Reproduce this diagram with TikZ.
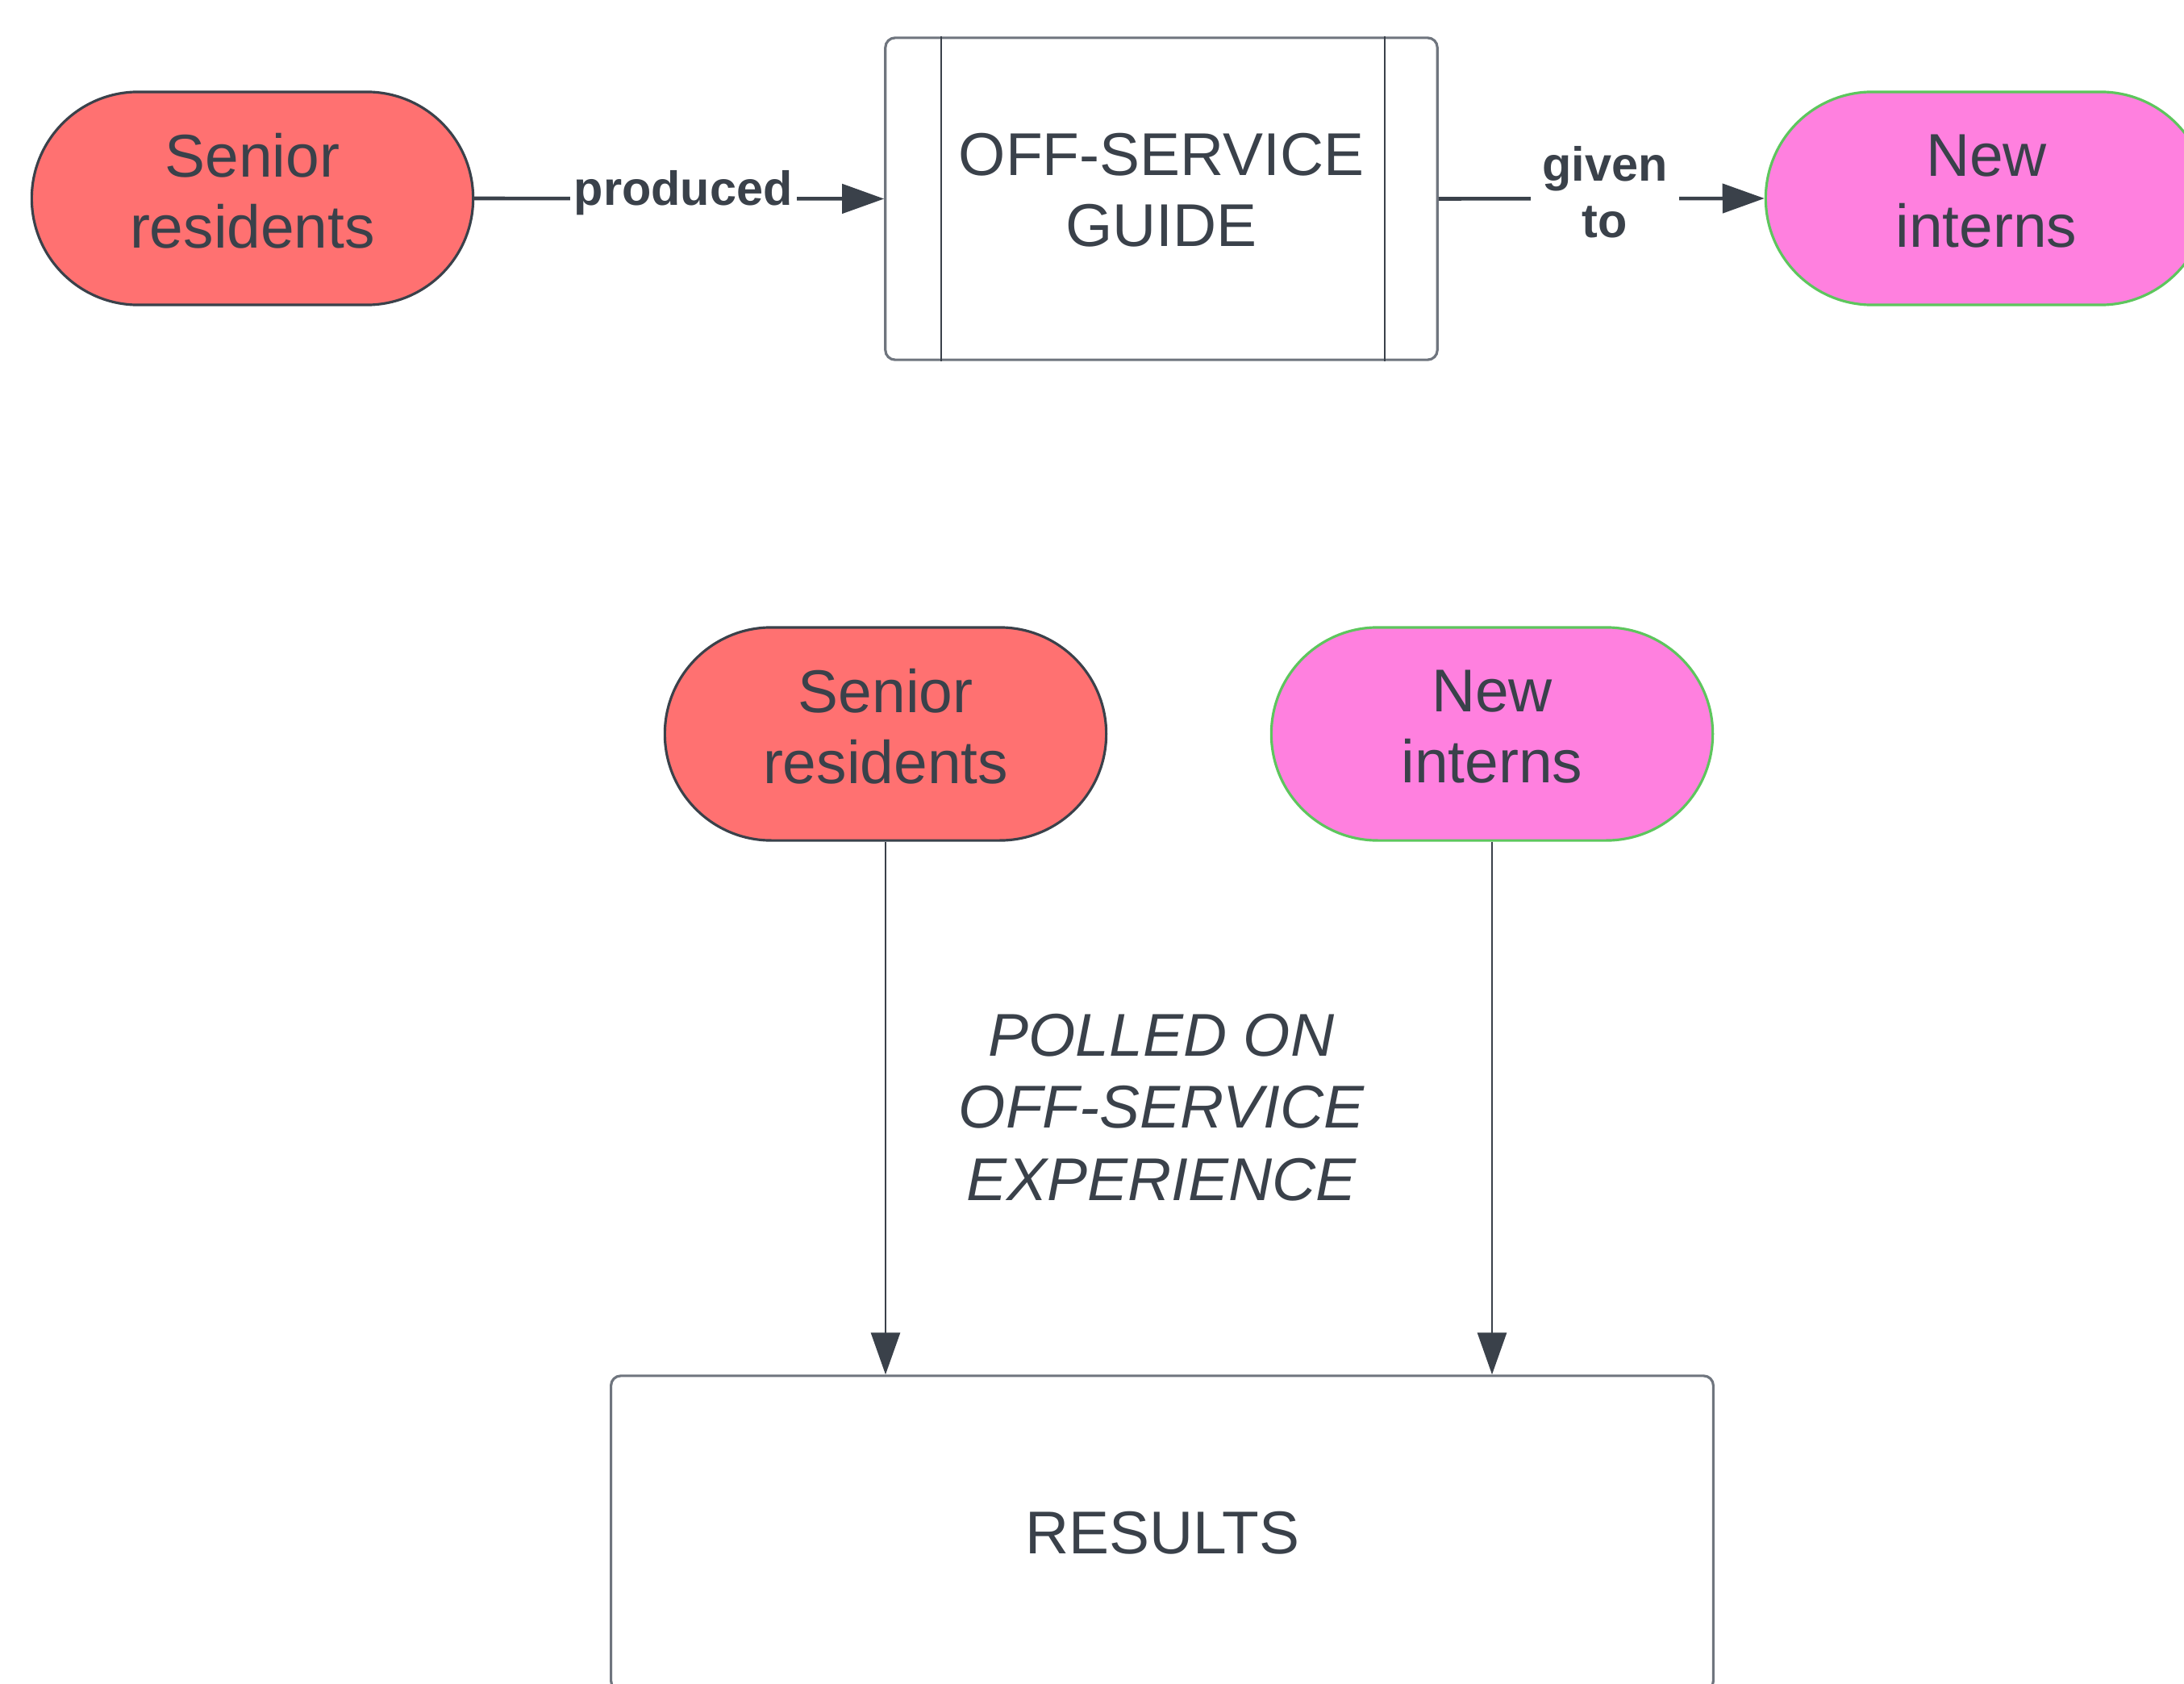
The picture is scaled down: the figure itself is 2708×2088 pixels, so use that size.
\documentclass[tikz,border=0pt]{standalone}
\usepackage{fontspec}
\setmainfont{Liberation Sans}
\usetikzlibrary{arrows.meta}
\definecolor{ink}{HTML}{3A414A}
\definecolor{redfill}{HTML}{FF7171}
\definecolor{pinkfill}{HTML}{FF80DF}
\definecolor{greenline}{HTML}{5DC65D}
\definecolor{boxline}{HTML}{6F757E}
\tikzset{
  pill/.style={rounded corners=1.32cm, minimum width=5.47cm, minimum height=2.64cm,
    inner sep=0pt, align=center, text=ink, font=\fontsize{21.3}{25}\selectfont, line width=0.9pt,
    text depth=0.19cm},
  seniorpill/.style={pill, draw=ink, fill=redfill},
  internpill/.style={pill, draw=greenline, fill=pinkfill},
  procbox/.style={draw=boxline, rounded corners=0.12cm, line width=0.9pt, inner sep=0pt,
    align=center, text=ink, font=\fontsize{21.3}{25}\selectfont},
  thickarrow/.style={draw=ink, line width=1.3pt, -{Triangle[length=0.52cm,width=0.36cm]}},
  thinarrow/.style={draw=ink, line width=0.8pt, -{Triangle[length=0.52cm,width=0.36cm]}},
  edgelabel/.style={fill=white, inner sep=1.5pt, text=ink, align=center,
    font=\fontsize{16.9}{20}\selectfont\bfseries},
  bigtext/.style={text=ink, align=center, font=\fontsize{21.3}{25.5}\selectfont\itshape}
}
\begin{document}
\begin{tikzpicture}[x=0.01cm,y=-0.01cm]
\useasboundingbox (0,0) rectangle (2708,2088);
\clip (0,0) rectangle (2708,2088);
\fill[white] (0,0) rectangle (2708,2088);
% top row
\node[seniorpill] (sr1) at (313,246) {Senior\\residents};
\node[procbox, minimum width=6.84cm, minimum height=3.99cm] (guide) at (1440,246.5) {};
\node[text=ink, align=center, font=\fontsize{21.3}{25}\selectfont] (guidetext) at (1440,236) {OFF-SERVICE\\GUIDE};
\draw[ink, line width=0.6pt] ([xshift=0.71cm]guide.north west) -- ([xshift=0.71cm]guide.south west);
\draw[ink, line width=0.6pt] ([xshift=-0.67cm]guide.north east) -- ([xshift=-0.67cm]guide.south east);
\node[internpill] (ni1) at (2463,246) {New\\interns};
\draw[thickarrow] (sr1.east) -- node[edgelabel, pos=0.51, yshift=0.07cm] (lprod) {produced} (guide.west);
\draw[thickarrow] (guide.east) -- node[edgelabel, pos=0.51, inner sep=4pt, yshift=0.08cm] (lgiven) {given\\to} (ni1.west);
% bottom part
\node[seniorpill] (sr2) at (1098,910) {Senior\\residents};
\node[internpill] (ni2) at (1850,910) {New\\interns};
\node[procbox, minimum width=13.66cm, minimum height=3.90cm] (res) at (1441,1901) {RESULTS};
\draw[thinarrow] (sr2.south) -- (sr2.south |- res.north);
\draw[thinarrow] (ni2.south) -- (ni2.south |- res.north);
\node[bigtext] (polled) at (1440,1373) {POLLED ON\\OFF-SERVICE\\EXPERIENCE};
\end{tikzpicture}
\end{document}
